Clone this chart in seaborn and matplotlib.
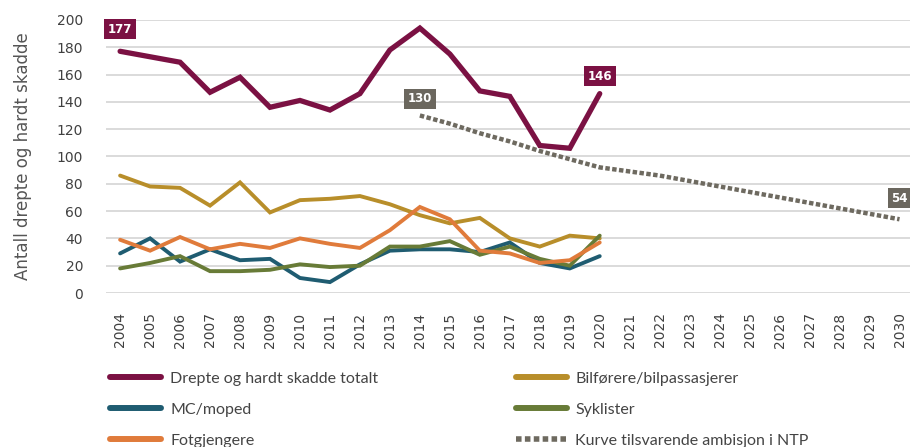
import matplotlib
matplotlib.use("Agg")
import matplotlib.pyplot as plt
from matplotlib.lines import Line2D
import pandas as pd
import seaborn as sns

# ---- data ----
years = list(range(2004, 2021))
total = [177, 173, 169, 147, 158, 136, 141, 134, 146, 178, 194, 175, 148, 144, 108, 106, 146]
bilforere = [86, 78, 77, 64, 81, 59, 68, 69, 71, 65, 57, 51, 55, 40, 34, 42, 40]
mc_moped = [29, 40, 23, 32, 24, 25, 11, 8, 21, 31, 32, 32, 30, 37, 22, 18, 27]
fotgjengere = [39, 31, 41, 32, 36, 33, 40, 36, 33, 46, 63, 54, 31, 29, 22, 24, 37]
syklister = [18, 22, 27, 16, 16, 17, 21, 19, 20, 34, 34, 38, 28, 34, 25, 20, 42]
ntp_years = list(range(2014, 2031))
ntp_curve = [130, 124, 117, 111, 104, 98, 92, 89, 86, 82, 78, 74, 70, 66, 62, 58, 54]
tick_years = list(range(2004, 2031))

names = {
    "total": "Drepte og hardt skadde totalt",
    "bil": "Bilførere/bilpassasjerer",
    "mc": "MC/moped",
    "syk": "Syklister",
    "fot": "Fotgjengere",
    "ntp": "Kurve tilsvarende ambisjon i NTP",
}
colors = {
    "total": "#7B1143",
    "bil": "#B88E2A",
    "mc": "#1F5C71",
    "syk": "#687B37",
    "fot": "#E07B3B",
    "ntp": "#6E6A60",
}

series = [
    ("total", years, total, 3.8),
    ("bil", years, bilforere, 2.8),
    ("mc", years, mc_moped, 2.8),
    ("syk", years, syklister, 2.8),
    ("fot", years, fotgjengere, 2.8),
]

sns.set_theme(style="white")
plt.rcParams["font.family"] = ["DejaVu Sans"]

fig = plt.figure(figsize=(9.10, 4.47), dpi=100)
ax = fig.add_axes([0.1165, 0.3445, 0.8835, 0.611])

for key, xs, ys, lw in series:
    df = pd.DataFrame({"År": xs, "Antall": ys})
    sns.lineplot(data=df, x="År", y="Antall", ax=ax, color=colors[key],
                 linewidth=lw, solid_capstyle="round", solid_joinstyle="miter")

df_ntp = pd.DataFrame({"År": ntp_years, "Antall": ntp_curve})
sns.lineplot(data=df_ntp, x="År", y="Antall", ax=ax, color=colors["ntp"],
             linewidth=3.2)
ax.lines[-1].set_dashes([1.0, 0.55])
ax.lines[-1].set_dash_capstyle("butt")

# value labels in filled boxes
def box_label(x, y, text, color, dy):
    ax.annotate(text, (x, y), xytext=(0, dy), textcoords="offset points",
                ha="center", va="center", color="white", fontsize=8.5,
                fontweight="bold", family="DejaVu Sans",
                bbox=dict(boxstyle="square,pad=0.3", fc=color, ec="none"))

box_label(years[0], total[0], str(total[0]), colors["total"], 16)
box_label(years[-1], total[-1], str(total[-1]), colors["total"], 12.5)
box_label(ntp_years[0], ntp_curve[0], str(ntp_curve[0]), "#6B675E", 12)
box_label(ntp_years[-1], ntp_curve[-1], str(ntp_curve[-1]), "#6B675E", 15)

ax.set_xlim(2003.53, 2030.35)
ax.set_ylim(0, 200)
ax.set_yticks(range(0, 201, 20))
ax.set_xticks(tick_years)
ax.set_xticklabels([str(y) for y in tick_years], rotation=90)
ax.tick_params(axis="both", length=0, labelsize=10, colors="#404040")
ax.tick_params(axis="y", pad=16.5)
ax.tick_params(axis="x", pad=14)
for lab in ax.get_xticklabels() + ax.get_yticklabels():
    lab.set_fontfamily("DejaVu Sans")
ax.grid(axis="y", color="#D4D4D4", linewidth=1.2)
ax.grid(axis="x", visible=False)
for s in ax.spines.values():
    s.set_visible(False)
ax.set_xlabel("")
ax.set_ylabel("Antall drepte og hardt skadde", fontsize=12, color="#555555",
              labelpad=18, family="DejaVu Sans")

# legend below the plot, filled row by row
handles = []
for key in ["total", "mc", "fot", "bil", "syk"]:
    handles.append(Line2D([0], [0], color=colors[key], linewidth=4.3,
                          solid_capstyle="round", label=names[key]))
h_ntp = Line2D([0], [0], color=colors["ntp"], linewidth=4, label=names["ntp"])
h_ntp.set_dashes([1.0, 0.6])
handles.append(h_ntp)

leg = fig.legend(handles=handles, ncol=2, loc="upper left",
                 bbox_to_anchor=(0.114, 0.183), frameon=False,
                 prop={"family": ["Lato", "DejaVu Sans"], "size": 11.5},
                 handlelength=3.2, handletextpad=0.55, columnspacing=8.6,
                 labelspacing=1.05, borderaxespad=0)
for t in leg.get_texts():
    t.set_color("#444444")

fig.savefig("out.png", dpi=100)
